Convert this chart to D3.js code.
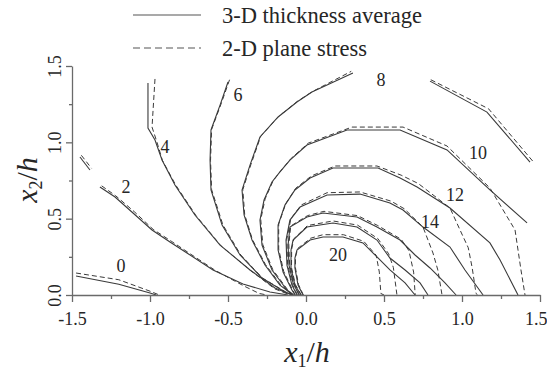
<!DOCTYPE html>
<html>
<head>
<meta charset="utf-8">
<script src="https://cdn.jsdelivr.net/npm/d3@7"></script>
<style>
  html, body { margin: 0; padding: 0; background: #fff; }
  svg { display: block; }
</style>
</head>
<body>
<svg id="chart" width="547" height="371"></svg>
<script>
// Tick values and labels
const xTicks = [-1.5, -1.0, -0.5, 0.0, 0.5, 1.0, 1.5];
const xMinor = [-1.25, -0.75, -0.25, 0.25, 0.75, 1.25];
const yTicks = [0.0, 0.5, 1.0, 1.5];
const yMinor = [0.25, 0.75, 1.25];

// Contour levels and label anchors [level, x1/h, x2/h]
const levels = [0, 2, 4, 6, 8, 10, 12, 14, 16, 18, 20];
const labelSpots = [
  ["0", -1.186, 0.19], ["2", -1.154, 0.707], ["4", -0.904, 0.969],
  ["6", -0.436, 1.31], ["8", 0.481, 1.408], ["10", 1.103, 0.93],
  ["12", 0.955, 0.655], ["14", 0.795, 0.478], ["20", 0.205, 0.262]
];

// Contour polylines, [x1/h, x2/h]; "3d" = thickness average, "2d" = plane stress
const c0_3d = [[-1.474,0.124],[-1.2,0.07],[-1.0,0.013],[-0.96,0.0]];
const c0_2d = [[-1.474,0.144],[-1.2,0.1],[-1.0,0.025],[-0.94,0.0]];

const c2a_3d = [[-1.449,0.904],[-1.385,0.819]];
const c2a_2d = [[-1.44,0.915],[-1.375,0.83]];
const c2_3d = [[-1.321,0.707],[-1.224,0.642],[-1.109,0.537],[-0.987,0.426],[-0.872,0.347],[-0.763,0.275],[-0.596,0.164],[-0.404,0.072],[-0.231,0.020],[-0.115,0.0]];
const c2_2d = [[-1.31,0.715],[-1.22,0.65],[-1.10,0.545],[-0.98,0.43],[-0.86,0.35],[-0.75,0.275],[-0.58,0.16],[-0.40,0.06],[-0.30,0.01],[-0.25,0.0]];

const c4_3d = [[-1.013,1.388],[-1.013,1.094],[-0.968,1.015],[-0.923,0.884],[-0.840,0.720],[-0.712,0.524],[-0.551,0.327],[-0.359,0.164],[-0.199,0.046],[-0.09,0.0]];
const c4_2d = [[-0.968,1.415],[-0.987,1.1],[-0.955,1.0],[-0.92,0.88],[-0.835,0.72],[-0.705,0.52],[-0.545,0.322],[-0.355,0.16],[-0.2,0.04],[-0.1,0.0]];

const c6_3d = [[-0.5,1.395],[-0.551,1.244],[-0.609,1.081],[-0.615,0.884],[-0.609,0.688],[-0.538,0.458],[-0.423,0.262],[-0.282,0.111],[-0.135,0.02],[-0.083,0.0]];
const c6_2d = [[-0.49,1.41],[-0.545,1.25],[-0.605,1.085],[-0.612,0.88],[-0.605,0.69],[-0.533,0.46],[-0.418,0.262],[-0.278,0.11],[-0.13,0.02],[-0.08,0.0]];

const c8_3d = [[-0.083,0.0],[-0.167,0.065],[-0.263,0.196],[-0.346,0.360],[-0.397,0.524],[-0.410,0.688],[-0.359,0.851],[-0.295,1.035],[-0.179,1.166],[-0.058,1.264],[0.038,1.329],[0.301,1.454]];
const c8_2d = [[-0.08,0.0],[-0.163,0.068],[-0.26,0.2],[-0.343,0.362],[-0.393,0.526],[-0.405,0.69],[-0.353,0.855],[-0.29,1.04],[-0.175,1.17],[-0.053,1.27],[0.042,1.333],[0.29,1.465]];
const c8b_3d = [[0.795,1.401],[1.160,1.198],[1.436,0.871]];
const c8b_2d = [[0.80,1.41],[1.17,1.22],[1.455,0.875]];

const c10_3d = [[-0.083,0.0],[-0.122,0.033],[-0.218,0.164],[-0.282,0.327],[-0.295,0.491],[-0.269,0.622],[-0.218,0.740],[-0.167,0.806],[-0.103,0.884],[0.006,0.982],[0.263,1.081],[0.603,1.081],[0.904,0.950],[1.179,0.688],[1.417,0.472]];
const c10_2d = [[-0.08,0.0],[-0.118,0.035],[-0.213,0.166],[-0.277,0.33],[-0.29,0.495],[-0.262,0.63],[-0.21,0.75],[-0.16,0.815],[-0.095,0.895],[0.015,0.995],[0.295,1.1],[0.622,1.1],[0.904,0.976],[1.0,0.88],[1.179,0.701],[1.34,0.426],[1.378,0.164],[1.404,0.0]];

const c12_3d = [[-0.071,0.0],[-0.09,0.033],[-0.147,0.151],[-0.179,0.295],[-0.179,0.458],[-0.135,0.589],[-0.071,0.688],[0.026,0.766],[0.173,0.832],[0.462,0.832],[0.603,0.766],[0.712,0.707],[0.923,0.570],[1.179,0.341],[1.244,0.229],[1.359,0.0]];
const c12_2d = [[-0.068,0.0],[-0.087,0.035],[-0.143,0.155],[-0.175,0.3],[-0.175,0.465],[-0.13,0.598],[-0.065,0.7],[0.035,0.78],[0.186,0.845],[0.455,0.845],[0.61,0.785],[0.72,0.73],[0.923,0.570],[0.99,0.42],[1.04,0.31],[1.065,0.18],[1.09,0.01],[1.10,0.0]];

const c14_3d = [[-0.058,0.0],[-0.09,0.065],[-0.122,0.196],[-0.128,0.36],[-0.103,0.491],[-0.038,0.576],[0.135,0.655],[0.346,0.661],[0.538,0.602],[0.622,0.557],[0.750,0.445],[0.923,0.314],[1.019,0.164],[1.135,0.0]];
const c14_2d = [[-0.055,0.0],[-0.087,0.068],[-0.118,0.2],[-0.123,0.365],[-0.097,0.5],[-0.03,0.59],[0.135,0.67],[0.346,0.675],[0.545,0.615],[0.63,0.565],[0.750,0.445],[0.814,0.275],[0.845,0.164],[0.872,0.0]];

const c16_3d = [[-0.045,0.0],[-0.083,0.079],[-0.109,0.196],[-0.115,0.327],[-0.103,0.445],[0.006,0.511],[0.109,0.537],[0.327,0.511],[0.455,0.445],[0.603,0.360],[0.699,0.262],[0.795,0.177],[0.891,0.079],[0.962,0.0]];
const c16_2d = [[-0.042,0.0],[-0.08,0.08],[-0.105,0.2],[-0.11,0.33],[-0.098,0.452],[0.01,0.52],[0.115,0.548],[0.33,0.52],[0.46,0.455],[0.61,0.365],[0.66,0.29],[0.69,0.15],[0.70,0.0]];

const c18_3d = [[-0.032,0.0],[-0.071,0.065],[-0.096,0.177],[-0.096,0.295],[-0.083,0.360],[0.006,0.445],[0.173,0.472],[0.327,0.445],[0.455,0.360],[0.538,0.242],[0.635,0.164],[0.731,0.079],[0.782,0.0]];
const c18_2d = [[-0.03,0.0],[-0.068,0.068],[-0.093,0.18],[-0.092,0.3],[-0.078,0.368],[0.01,0.455],[0.173,0.485],[0.33,0.458],[0.46,0.37],[0.53,0.27],[0.56,0.18],[0.583,0.0]];

const c20_3d = [[-0.019,0.0],[-0.051,0.065],[-0.071,0.177],[-0.071,0.242],[-0.058,0.295],[0.026,0.360],[0.109,0.380],[0.237,0.380],[0.365,0.341],[0.455,0.249],[0.538,0.164],[0.635,0.079],[0.699,0.0]];
const c20_2d = [[-0.017,0.0],[-0.048,0.068],[-0.068,0.18],[-0.067,0.25],[-0.053,0.305],[0.03,0.372],[0.109,0.395],[0.24,0.395],[0.37,0.352],[0.45,0.26],[0.47,0.15],[0.48,0.01],[0.50,0.0]];

const solidLines = [c0_3d, c2a_3d, c2_3d, c4_3d, c6_3d, c8_3d, c8b_3d, c10_3d, c12_3d, c14_3d, c16_3d, c18_3d, c20_3d];
const dashedLines = [c0_2d, c2a_2d, c2_2d, c4_2d, c6_2d, c8_2d, c8b_2d, c10_2d, c12_2d, c14_2d, c16_2d, c18_2d, c20_2d];

const SERIF = "Liberation Serif";
const TXT = "#262626";
const svg = d3.select("#chart").attr("font-family", SERIF);
const x = d3.scaleLinear().domain([-1.5, 1.5]).range([72, 540]);
const y = d3.scaleLinear().domain([0, 1.5]).range([295, 66]);
const INK = "#3a3a3a";
const AXIS = "#6a6a6a";

const line = d3.line().x(d => x(d[0])).y(d => y(d[1]));

// plane-stress contours
svg.append("g").selectAll("path").data(dashedLines).join("path")
  .attr("d", line).attr("fill", "none").attr("stroke", INK)
  .attr("stroke-width", 1).attr("stroke-dasharray", "5,3");

// thickness-average contours
svg.append("g").selectAll("path").data(solidLines).join("path")
  .attr("d", line).attr("fill", "none").attr("stroke", INK)
  .attr("stroke-width", 1.1);

// contour labels
svg.append("g").selectAll("text").data(labelSpots).join("text")
  .attr("font-family", SERIF).attr("fill", TXT)
  .attr("x", d => x(d[1])).attr("y", d => y(d[2]) + 6)
  .attr("text-anchor", "middle").attr("font-size", 18)
  .text(d => d[0]);

// x axis
const gx = svg.append("g").attr("transform", `translate(0,${y(0)})`);
gx.call(d3.axisBottom(x).tickValues(xTicks).tickSize(7).tickSizeOuter(0)
  .tickFormat(d => d.toFixed(1)));
gx.append("g").call(d3.axisBottom(x).tickValues(xMinor).tickSize(4).tickSizeOuter(0).tickFormat(""))
  .select(".domain").remove();
gx.attr("font-family", SERIF);
gx.selectAll(".domain, line").attr("stroke", AXIS).attr("stroke-width", 1.3);
gx.selectAll("text").attr("font-size", 18).attr("fill", TXT)
  .attr("font-family", SERIF)
  .attr("y", 30).attr("dy", 0)
  .filter(d => d === 1.5).attr("text-anchor", "end").attr("x", 7);

// y axis
const gy = svg.append("g").attr("transform", `translate(${x(-1.5)},0)`);
gy.call(d3.axisLeft(y).tickValues(yTicks).tickSize(6).tickSizeOuter(0)
  .tickFormat(d => d.toFixed(1)));
gy.append("g").call(d3.axisLeft(y).tickValues(yMinor).tickSize(3).tickSizeOuter(0).tickFormat(""))
  .select(".domain").remove();
gy.attr("font-family", SERIF);
gy.selectAll(".domain, line").attr("stroke", AXIS).attr("stroke-width", 1.3);
gy.selectAll("text").attr("font-size", 18).attr("fill", TXT)
  .attr("font-family", SERIF)
  .attr("x", 0).attr("dy", 0).attr("y", 0)
  .attr("text-anchor", "middle")
  .attr("transform", "translate(-11,0) rotate(-90)");

// axis titles
const xt = svg.append("text").attr("x", 307).attr("y", 362)
  .attr("font-family", SERIF).attr("fill", TXT)
  .attr("text-anchor", "middle").attr("font-size", 30);
xt.append("tspan").attr("font-style", "italic").text("x");
xt.append("tspan").attr("font-size", 18).attr("dy", 5).text("1");
xt.append("tspan").attr("dy", -5).text("/");
xt.append("tspan").attr("font-style", "italic").text("h");

const yt = svg.append("text").attr("transform", "translate(37,180) rotate(-90)")
  .attr("font-family", SERIF).attr("fill", TXT)
  .attr("text-anchor", "middle").attr("font-size", 30);
yt.append("tspan").attr("font-style", "italic").text("x");
yt.append("tspan").attr("font-size", 18).attr("dy", 5).text("2");
yt.append("tspan").attr("dy", -5).text("/");
yt.append("tspan").attr("font-style", "italic").text("h");

// legend
const legend = [
  { name: "3-D thickness average", dash: null, y: 15 },
  { name: "2-D plane stress", dash: "7,4", y: 48 }
];
const lg = svg.append("g").selectAll("g").data(legend).join("g");
lg.append("line").attr("x1", 133).attr("x2", 201)
  .attr("y1", d => d.y).attr("y2", d => d.y)
  .attr("stroke", "#555").attr("stroke-width", 1.2)
  .attr("stroke-dasharray", d => d.dash);
lg.append("text").attr("x", 222).attr("y", d => d.y + 7.5)
  .attr("font-family", SERIF).attr("fill", TXT)
  .attr("font-size", 22.5).text(d => d.name);
</script>
</body>
</html>
